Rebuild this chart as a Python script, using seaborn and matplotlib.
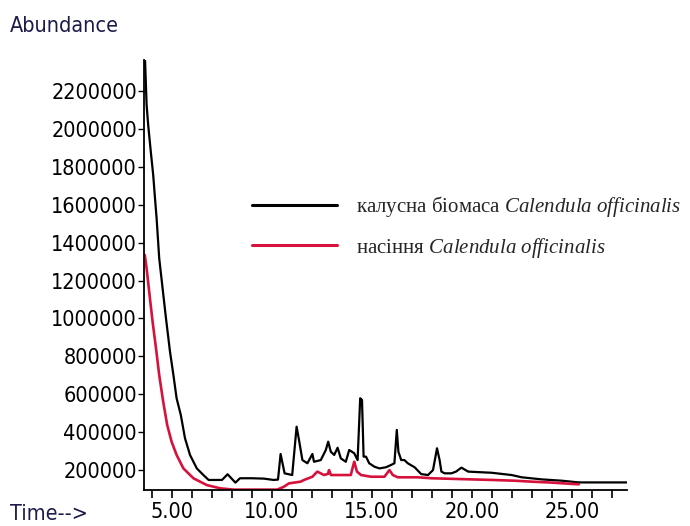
import matplotlib
matplotlib.use("Agg")
import matplotlib.pyplot as plt
import matplotlib.font_manager as fm
import seaborn as sns
import pandas as pd
from matplotlib.ticker import FixedLocator, MultipleLocator, FuncFormatter

# ---- data ----
t_callus = [3.64, 3.73, 3.81, 3.94, 4.06, 4.15, 4.23, 4.36, 4.53, 4.70, 4.90, 5.07, 5.23, 5.44,
            5.65, 5.90, 6.24, 6.57, 6.83, 7.2, 7.5, 7.78, 8.17, 8.4, 9.0, 9.6, 10.08, 10.3, 10.43,
            10.63, 11.01, 11.23, 11.35, 11.52, 11.77, 12.02, 12.10, 12.44, 12.69, 12.81, 12.94,
            13.11, 13.28, 13.44, 13.69, 13.86, 14.11, 14.28, 14.41, 14.50, 14.58, 14.70, 14.86,
            15.12, 15.37, 15.70, 15.95, 16.12, 16.24, 16.32, 16.46, 16.62, 16.79, 17.13, 17.46,
            17.80, 18.05, 18.25, 18.38, 18.47, 18.63, 18.97, 19.2, 19.47, 19.81, 20.98, 21.98,
            22.49, 23.49, 24.50, 25.34, 27.85]
abund_callus = [2400000, 2127000, 2020000, 1880000, 1757000, 1634000, 1529000, 1318000, 1159000,
                1000000, 825000, 702000, 579000, 491000, 368000, 280000, 209000, 174000, 148000,
                148000, 148000, 178000, 134000, 157000, 157000, 155000, 148000, 150000, 285000,
                183000, 174000, 429000, 359000, 253000, 236000, 285000, 244000, 253000, 306000,
                350000, 297000, 280000, 318000, 262000, 244000, 306000, 289000, 253000, 579000,
                570000, 271000, 271000, 236000, 218000, 209000, 215000, 227000, 236000, 412000,
                297000, 253000, 253000, 236000, 215000, 179000, 174000, 200000, 315000, 253000,
                192000, 183000, 183000, 192000, 213000, 192000, 186000, 174000, 162000, 151000,
                144000, 135000, 135000]

t_seed = [3.64, 3.73, 3.86, 4.03, 4.20, 4.36, 4.56, 4.76, 4.98, 5.23, 5.57, 6.07, 6.74, 7.41,
          8.08, 10.26, 10.59, 10.85, 11.43, 11.60, 12.02, 12.20, 12.27, 12.60, 12.80, 12.85,
          12.95, 13.94, 14.05, 14.11, 14.25, 14.45, 14.95, 15.62, 15.80, 15.87, 16.04, 16.29,
          17.29, 17.96, 19.97, 20.98, 22.15, 22.99, 24.0, 25.0, 25.34]
abund_seed = [1335000, 1265000, 1141000, 983000, 843000, 702000, 561000, 438000, 350000, 280000,
              209000, 157000, 121000, 104000, 97000, 97000, 112000, 130000, 139000, 148000,
              165000, 185000, 192000, 174000, 180000, 200000, 174000, 174000, 220000, 244000,
              192000, 174000, 165000, 165000, 190000, 200000, 174000, 162000, 162000, 157000,
              151000, 148000, 144000, 139000, 134000, 127000, 125000]

label_callus = "калусна біомаса $\\it{Calendula\\ officinalis}$"
label_seed = "насіння $\\it{Calendula\\ officinalis}$"

y_ticks = list(range(200000, 2200001, 200000))
x_major = [5, 10, 15, 20, 25]

# ---- style ----
sns.set_style("white")
plt.rcParams['mathtext.fontset'] = 'custom'
plt.rcParams['mathtext.it'] = 'Liberation Serif:italic'
plt.rcParams['mathtext.rm'] = 'Liberation Serif'

# pick a narrow sans font for the axis texts
names = {f.name for f in fm.fontManager.ttflist}
if 'Liberation Sans Narrow' in names:
    axis_font = dict(family='Liberation Sans Narrow', size=17)
else:
    p = fm.findfont(fm.FontProperties(family='DejaVu Sans', stretch='condensed'))
    if 'Condensed' in p:
        axis_font = dict(family='DejaVu Sans', stretch='condensed', size=15.5)
    else:
        axis_font = dict(family='DejaVu Sans', size=13.5)
plt.rcParams['font.family'] = [axis_font['family'], 'DejaVu Sans']
if 'stretch' in axis_font:
    plt.rcParams['font.stretch'] = axis_font['stretch']
fs = axis_font['size']

fig = plt.figure(figsize=(6.9, 5.26), dpi=100)
ax = fig.add_axes([144/690, 36/526, 483/690, 430/526])

df_c = pd.DataFrame({"t": t_callus, "a": abund_callus})
df_s = pd.DataFrame({"t": t_seed, "a": abund_seed})
sns.lineplot(data=df_c, x="t", y="a", ax=ax, color="black", lw=1.6,
             estimator=None, sort=False, label=label_callus)
sns.lineplot(data=df_s, x="t", y="a", ax=ax, color="#d6123c", lw=1.9,
             estimator=None, sort=False, label=label_seed)

ax.set_xlim(3.6, 27.75)
ax.set_ylim(95000, 2364000)
ax.set_xlabel("")
ax.set_ylabel("")

for s in ["top", "right"]:
    ax.spines[s].set_visible(False)
for s in ["left", "bottom"]:
    ax.spines[s].set_color("black")
    ax.spines[s].set_linewidth(1.3)

ax.xaxis.set_major_locator(FixedLocator(x_major))
ax.xaxis.set_minor_locator(MultipleLocator(1))
ax.xaxis.set_major_formatter(FuncFormatter(lambda v, p: f"{v:.2f}"))
ax.yaxis.set_major_locator(FixedLocator(y_ticks))
ax.yaxis.set_major_formatter(FuncFormatter(lambda v, p: f"{int(v)}"))

ax.tick_params(axis="x", which="both", direction="out", length=6, width=1.2,
               bottom=True, labelsize=fs, pad=3, colors="black")
ax.tick_params(axis="y", which="major", direction="out", length=4, width=1.0,
               left=True, labelsize=fs, pad=1, colors="black")

leg = ax.legend(loc="upper left", bbox_to_anchor=(252/690, 1 - 194/526),
                bbox_transform=fig.transFigure, frameon=False,
                prop={"family": "Liberation Serif", "size": 15},
                handlelength=4.1, handletextpad=0.87, labelspacing=0.8,
                borderpad=0, borderaxespad=0)
for h in leg.get_lines():
    h.set_linewidth(2.2)

fig.text(10/690, 1 - 26/526, "Abundance", fontsize=fs, color="#1c1c4a",
         va="center", ha="left")
fig.text(10/690, 1 - 514/526, "Time-->", fontsize=fs, color="#1c1c4a",
         va="center", ha="left")

fig.savefig("out.png", dpi=100)
